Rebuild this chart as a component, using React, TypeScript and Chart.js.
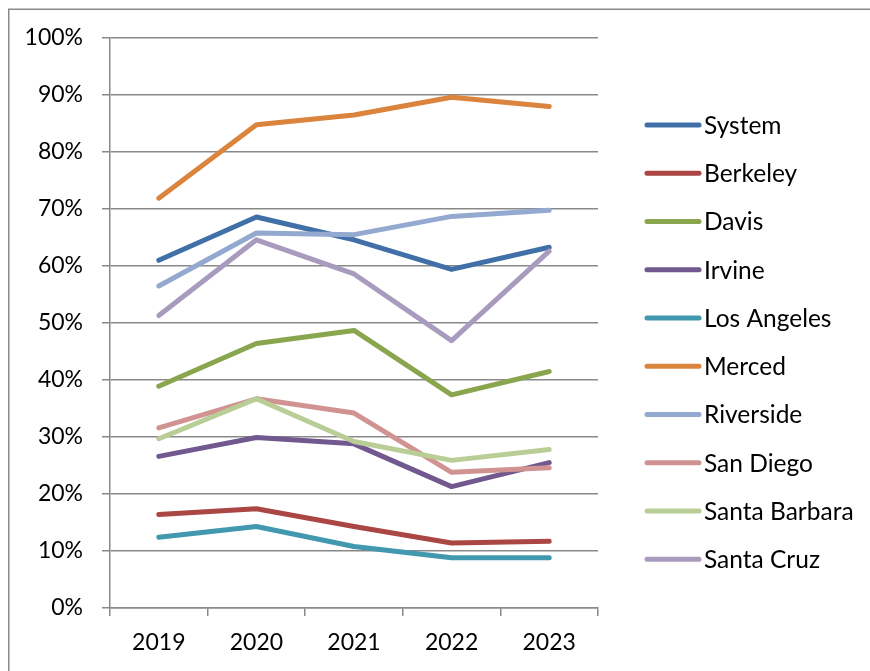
import React, { useEffect, useRef } from "react";
import { Chart, registerables } from "chart.js";

Chart.register(...registerables);

const years = ["2019", "2020", "2021", "2022", "2023"];
const seriesNames = [
  "System",
  "Berkeley",
  "Davis",
  "Irvine",
  "Los Angeles",
  "Merced",
  "Riverside",
  "San Diego",
  "Santa Barbara",
  "Santa Cruz",
];
const system = [61.0, 68.6, 64.6, 59.4, 63.3];
const berkeley = [16.4, 17.4, 14.3, 11.4, 11.7];
const davis = [38.9, 46.4, 48.7, 37.4, 41.5];
const irvine = [26.6, 29.9, 28.8, 21.3, 25.5];
const losAngeles = [12.4, 14.3, 10.8, 8.8, 8.8];
const merced = [71.9, 84.8, 86.5, 89.6, 88.0];
const riverside = [56.5, 65.8, 65.5, 68.7, 69.8];
const sanDiego = [31.6, 36.7, 34.2, 23.8, 24.6];
const santaBarbara = [29.7, 36.7, 29.2, 25.9, 27.8];
const santaCruz = [51.3, 64.6, 58.6, 46.9, 62.6];
const seriesValues = [
  system,
  berkeley,
  davis,
  irvine,
  losAngeles,
  merced,
  riverside,
  sanDiego,
  santaBarbara,
  santaCruz,
];
const seriesColors = [
  "#4170A8",
  "#AA4643",
  "#89A54E",
  "#71588F",
  "#4198AF",
  "#DB843D",
  "#93A9CF",
  "#D19392",
  "#B9CD96",
  "#A99BBD",
];
const yMin = 0;
const yMax = 100;
const yStep = 10;

const FONT = "Lato, 'Open Sans', sans-serif";
const GRID = "#898989";

const framePlugin = {
  id: "frame",
  afterDraw(chart: any) {
    const ctx = chart.ctx;
    ctx.save();
    ctx.strokeStyle = GRID;
    ctx.lineWidth = 1.5;
    ctx.beginPath();
    ctx.moveTo(8.75, 671);
    ctx.lineTo(8.75, 9.25);
    ctx.lineTo(870, 9.25);
    ctx.stroke();
    ctx.restore();
  },
};

const legendPlugin = {
  id: "customLegend",
  afterDraw(chart: any) {
    const ctx = chart.ctx;
    ctx.save();
    ctx.font = `24.5px ${FONT}`;
    ctx.textBaseline = "middle";
    ctx.textAlign = "left";
    chart.data.datasets.forEach((ds: any, i: number) => {
      const y = 125 + i * 48.25;
      ctx.strokeStyle = ds.borderColor;
      ctx.lineWidth = 5;
      ctx.lineCap = "round";
      ctx.beginPath();
      ctx.moveTo(647, y);
      ctx.lineTo(699, y);
      ctx.stroke();
      ctx.fillStyle = "#000";
      ctx.fillText(ds.label, 704, y + 1);
    });
    ctx.restore();
  },
};

export default function App() {
  const ref = useRef<HTMLCanvasElement | null>(null);
  useEffect(() => {
    if (!ref.current) return;
    const chart = new Chart(ref.current, {
      type: "line",
      data: {
        labels: years,
        datasets: seriesNames.map((name, i) => ({
          label: name,
          data: seriesValues[i],
          borderColor: seriesColors[i],
          backgroundColor: seriesColors[i],
          borderWidth: 5,
          pointRadius: 0,
          tension: 0,
          borderCapStyle: "round" as const,
          borderJoinStyle: "round" as const,
          order: seriesNames.length - i,
        })),
      },
      options: {
        animation: false,
        responsive: false,
        devicePixelRatio: 1,
        layout: { padding: { left: 0, top: 38, right: 272, bottom: 0 } },
        plugins: {
          legend: { display: false },
          tooltip: { enabled: false },
        },
        scales: {
          x: {
            offset: true,
            grid: {
              offset: true,
              drawOnChartArea: false,
              drawTicks: true,
              tickLength: 8,
              color: GRID,
              lineWidth: 1.5,
            },
            border: { display: true, color: GRID, width: 1.5 },
            ticks: {
              color: "#000",
              font: { family: FONT, size: 23 },
              padding: 13,
              maxRotation: 0,
            },
            afterFit(scale: any) {
              scale.height = 63;
            },
          },
          y: {
            min: yMin,
            max: yMax,
            ticks: {
              stepSize: yStep,
              color: "#000",
              font: { family: FONT, size: 23 },
              padding: 19,
              callback: (v: any) => `${v}%`,
            },
            grid: {
              color: GRID,
              lineWidth: 1.5,
              drawTicks: true,
              tickLength: 8,
            },
            border: { display: true, color: GRID, width: 1.5 },
            afterFit(scale: any) {
              scale.width = 110;
            },
          },
        },
      },
      plugins: [framePlugin, legendPlugin],
    });
    return () => chart.destroy();
  }, []);
  return (
    <div style={{ position: "fixed", left: 0, top: 0, width: 870, height: 671, background: "#fff" }}>
      <canvas ref={ref} width={870} height={671} style={{ display: "block" }} />
    </div>
  );
}
